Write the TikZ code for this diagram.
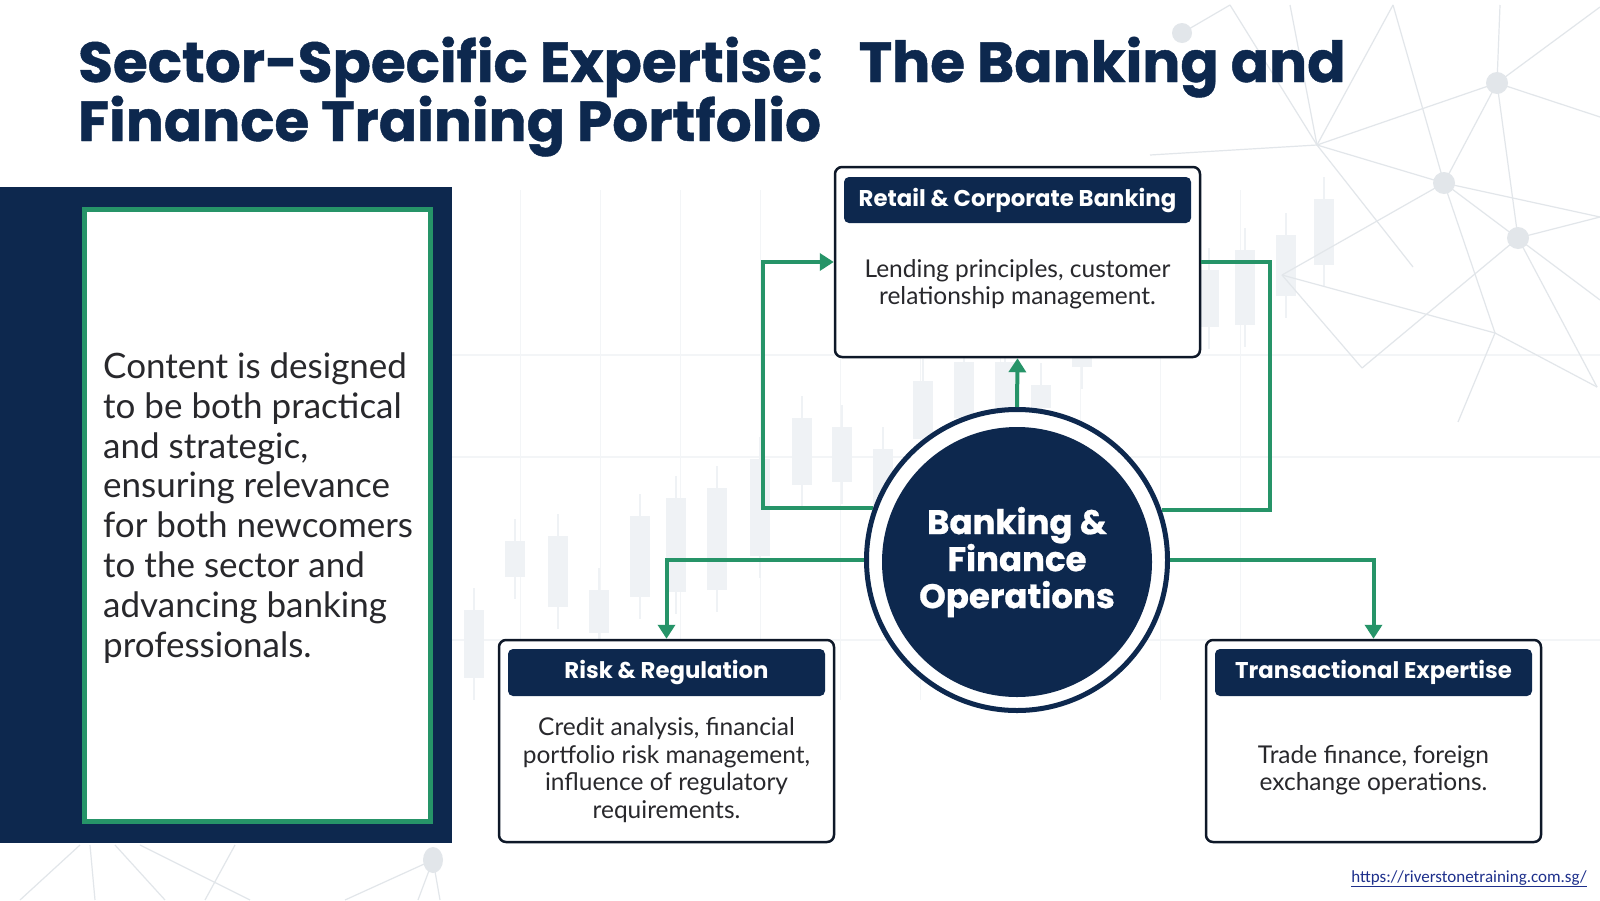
\documentclass[tikz,border=0pt]{standalone}
\usepackage{fontspec}
\setmainfont{Poppins}
\newfontfamily\titlefont{Poppins}[BoldFeatures={FakeBold=0.8}]
\newfontfamily\bodyfont{Lato}
\newfontfamily\urlfont{Carlito}
\usetikzlibrary{arrows.meta,calc}
\definecolor{navy}{RGB}{13,40,78}
\definecolor{cardline}{RGB}{14,24,40}
\definecolor{grn}{RGB}{38,148,104}
\definecolor{txt}{RGB}{40,40,44}
\definecolor{netc}{RGB}{226,230,234}
\definecolor{candle}{RGB}{239,242,245}
\definecolor{gridc}{RGB}{243,245,247}
\definecolor{urlc}{RGB}{30,48,140}
\tikzset{
  card/.style={draw=cardline, line width=2.5pt, rounded corners=7pt, fill=white, inner sep=0pt},
  hdr/.style={fill=navy, rounded corners=5pt, text=white, inner sep=0pt, font=\fontsize{22.8}{26}\selectfont\bfseries},
  bodytxt/.style={text=txt, align=center, inner sep=0pt, font=\bodyfont\fontsize{24.5}{27.5}\selectfont},
  conn/.style={draw=grn, line width=4pt},
  tip/.style={-{Triangle[length=14pt,width=17pt]}},
  netline/.style={draw=netc, line width=1.2pt},
  netdot/.style={fill=netc},
  candlebody/.style={fill=candle},
  wick/.style={draw=candle, line width=1.5pt},
}
\begin{document}
\begin{tikzpicture}[x=1pt,y=-1pt]
\useasboundingbox (0,0) rectangle (1600,900);
\fill[white] (0,0) rectangle (1600,900);
% faint grid
\foreach \yy in {355,457,640} \draw[gridc, line width=1.5pt] (452,\yy) -- (1600,\yy);
\foreach \xx in {520,600,680,760,840,920,1000,1080,1160,1240} \draw[gridc, line width=1pt] (\xx,190) -- (\xx,700);
% candlesticks
\foreach \cx/\ct/\cb in {474/610/678, 515/541/577, 558/536/607, 599/590/633, 640/516/597, 676/498/592, 717/488/590, 760/459/556, 802/418/485, 842/427/482, 883/449/510, 923/381/439, 964/362/418, 1005/362/408, 1041/385/408, 1082/337/367, 1209/270/327, 1245/250/325, 1286/235/296, 1324/199/265} {
  \draw[wick] (\cx,\ct-22) -- (\cx,\cb+22);
  \fill[candlebody] (\cx-10,\ct) rectangle (\cx+10,\cb);
}
% network top right
\foreach \ax/\ay/\bx/\by in {1182/33/1230/5, 1230/5/1317/145, 1317/145/1393/5, 1317/145/1497/83, 1317/145/1444/183, 1317/145/1150/155, 1317/145/1413/267, 1393/5/1444/183, 1444/183/1497/83, 1444/183/1282/275, 1444/183/1495/333, 1444/183/1600/217, 1497/83/1500/5, 1497/83/1600/7, 1497/83/1518/238, 1497/83/1600/117, 1518/238/1597/387, 1518/238/1600/217, 1518/238/1362/368, 1282/275/1495/333, 1282/275/1362/368, 1495/333/1458/422, 1495/333/1597/387, 1290/5/1317/145, 1444/183/1600/300}
  \draw[netline] (\ax,\ay) -- (\bx,\by);
\foreach \dx/\dy/\r in {1182/33/10, 1497/83/11, 1444/183/11, 1518/238/11}
  \fill[netdot] (\dx,\dy) circle (\r);
% network bottom left
\foreach \ax/\ay/\bx/\by in {433/860/345/900, 433/860/418/900, 433/860/440/900, 80/845/20/900, 90/845/95/900, 115/845/165/900, 140/845/250/900, 235/845/205/900}
  \draw[netline] (\ax,\ay) -- (\bx,\by);
\fill[netdot] (433,860) ellipse (10 and 13);
% left panel
\fill[navy] (0,187) rectangle (452,843);
\draw[grn, line width=5pt, fill=white] (84,209) rectangle (430,821);
\node[anchor=base west, align=left, inner sep=0pt, text=txt, font=\bodyfont\fontsize{35}{39.8}\selectfont] (lefttext) at (103,657)
  {Content is designed\\to be both practical\\and strategic,\\ensuring relevance\\for both newcomers\\to the sector and\\advancing banking\\professionals.};
% title
\node[anchor=base west, inner sep=0pt, text=navy, font=\titlefont\fontsize{56.5}{60}\selectfont\bfseries] (title1) at (78,82) {Sector-Specific Expertise:\ \ \ The Banking and};
\node[anchor=base west, inner sep=0pt, text=navy, font=\titlefont\fontsize{56.5}{60}\selectfont\bfseries] (title2) at (78,141) {Finance Training Portfolio};
% cards
\node[card, minimum width=365pt, minimum height=190pt] (retail) at (1017.5,262) {};
\node[hdr, minimum width=347pt, minimum height=46pt] (retailh) at (1017.5,200) {Retail \& Corporate Banking};
\node[bodytxt] (retailb) at (1017.5,284) {Lending principles, customer\\relationship management.};
\node[card, minimum width=335pt, minimum height=202pt] (risk) at (666.5,741) {};
\node[hdr, minimum width=317pt, minimum height=47pt] (riskh) at (666.5,672.5) {Risk \& Regulation};
\node[bodytxt] (riskb) at (666.5,770) {Credit analysis, financial\\portfolio risk management,\\influence of regulatory\\requirements.};
\node[card, minimum width=335pt, minimum height=202pt] (trans) at (1373.5,741) {};
\node[hdr, minimum width=317pt, minimum height=47pt] (transh) at (1373.5,672.5) {Transactional Expertise};
\node[bodytxt] (transb) at (1373.5,770) {Trade finance, foreign\\exchange operations.};
% hub
\node[circle, draw=navy, line width=5pt, fill=white, minimum size=301pt, inner sep=0pt] (hubring) at (1017,560) {};
\node[circle, fill=navy, minimum size=270pt, inner sep=0pt, text=white, align=center, font=\titlefont\fontsize{34}{37}\selectfont\bfseries] (hub) at (1017,562) {Banking \&\\Finance\\Operations};
% connectors
\coordinate (lc) at (763,262);
\coordinate (rc) at (1270,262);
\draw[conn, tip] (hubring.160.5) -| (lc) -- (retail.west);
\draw[conn] (hubring.19.5) -| (rc) -- (retail.east);
\draw[conn, tip] (hubring.north) -- (retail.south);
\draw[conn, tip] (hubring.west) -| (risk.north);
\draw[conn, tip] (hubring.east) -| (trans.north);
% url
\node[anchor=base east, inner sep=0pt, text=urlc, font=\urlfont\fontsize{17}{20}\selectfont] (url) at (1587,882) {\underline{https://riverstonetraining.com.sg/}};
\end{tikzpicture}
\end{document}
